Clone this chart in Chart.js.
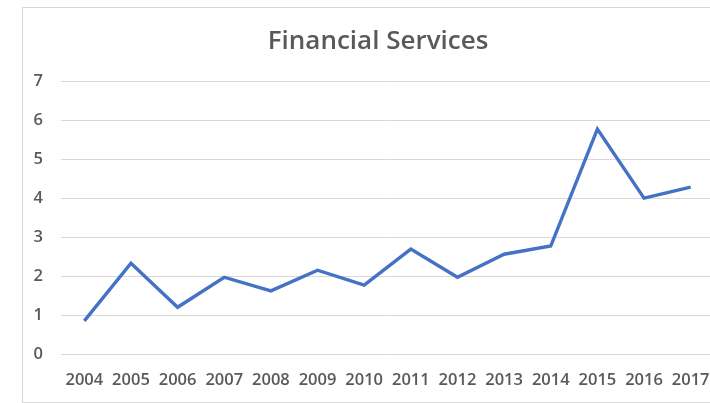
<!DOCTYPE html>
<html>
<head>
<meta charset="utf-8">
<script src="https://cdn.jsdelivr.net/npm/chart.js@4"></script>
<style>
  html, body { margin: 0; padding: 0; background: #ffffff; overflow: hidden; }
  #box { position: absolute; left: 22px; top: 7px; width: 720px; height: 394px; border: 1px solid #d9d9d9; background: #fff; }
  canvas { display: block; }
</style>
</head>
<body>
<div id="box"><canvas id="c" width="720" height="394"></canvas></div>
<script>
const titleText = "Financial Services";
const years = ["2004","2005","2006","2007","2008","2009","2010","2011","2012","2013","2014","2015","2016","2017"];
const values = [0.85, 2.33, 1.2, 1.97, 1.62, 2.15, 1.77, 2.69, 1.97, 2.56, 2.77, 5.77, 4.0, 4.28];
const yTicks = [0, 1, 2, 3, 4, 5, 6, 7];

const textColor = "#595959";
const font = "'Open Sans', 'Noto Sans', sans-serif";

// shift the title block so it is centred on the chart box rather than the padded area
const titleShift = {
  id: "titleShift",
  afterLayout(chart) {
    if (chart.titleBlock) { chart.titleBlock.left += 19; }
  }
};

new Chart(document.getElementById("c"), {
  type: "line",
  data: {
    labels: years,
    datasets: [{
      label: titleText,
      data: values,
      borderColor: "#4472C4",
      borderWidth: 3.4,
      pointRadius: 0,
      tension: 0,
      fill: false,
      borderJoinStyle: "miter"
    }]
  },
  plugins: [titleShift],
  options: {
    responsive: false,
    animation: false,
    layout: { padding: { left: 0, right: 29, top: 0, bottom: 0 } },
    plugins: {
      legend: { display: false },
      tooltip: { enabled: false },
      title: {
        display: true,
        text: titleText,
        color: textColor,
        font: { family: font, size: 26, weight: "600" },
        padding: { top: 18, bottom: 24 }
      }
    },
    scales: {
      x: {
        offset: true,
        grid: { display: false, drawTicks: false },
        border: { display: false },
        ticks: {
          color: textColor,
          font: { family: font, size: 16.5, weight: "600" },
          padding: 16,
          maxRotation: 0,
          autoSkip: false
        },
        afterFit: (s) => { s.height = 48; }
      },
      y: {
        min: 0,
        max: 7,
        afterBuildTicks: (s) => { s.ticks = yTicks.map(v => ({ value: v })); },
        grid: { color: "#d9d9d9", lineWidth: 1, drawTicks: false },
        border: { display: false },
        ticks: {
          color: textColor,
          font: { family: font, size: 16.5, weight: "600" },
          padding: 18
        },
        afterFit: (s) => { s.width = 38; }
      }
    }
  }
});
</script>
</body>
</html>
